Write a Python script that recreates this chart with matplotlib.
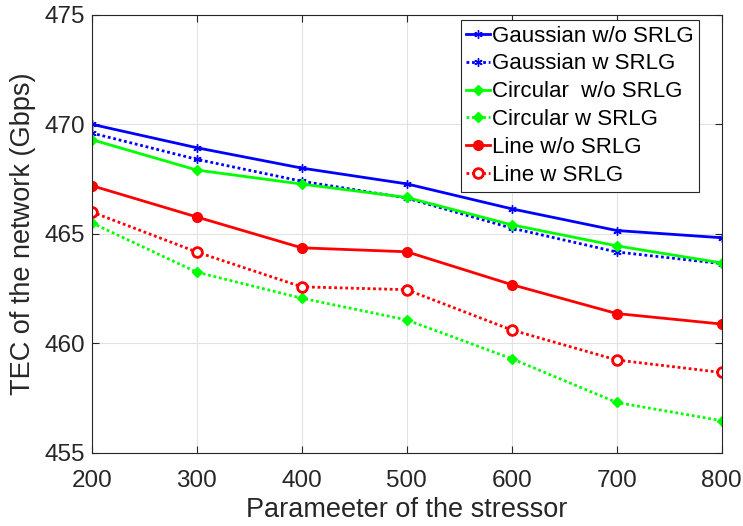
import matplotlib.pyplot as plt

plt.rcParams['font.family'] = ['Liberation Sans', 'DejaVu Sans']

# stressor parameter
x = [200, 300, 400, 500, 600, 700, 800]

gauss_wo = [470.0, 468.93, 468.0, 467.28, 466.14, 465.15, 464.82]
gauss_w = [469.6, 468.4, 467.4, 466.63, 465.26, 464.17, 463.64]
circ_wo = [469.3, 467.91, 467.27, 466.66, 465.41, 464.45, 463.67]
circ_w = [465.5, 463.25, 462.06, 461.07, 459.3, 457.3, 456.47]
line_wo = [467.2, 465.77, 464.36, 464.18, 462.68, 461.36, 460.88]
line_w = [466.0, 464.17, 462.58, 462.45, 460.61, 459.24, 458.67]

labels = ['Gaussian w/o SRLG', 'Gaussian w SRLG', 'Circular  w/o SRLG',
          'Circular w SRLG', 'Line w/o SRLG', 'Line w SRLG']

fig = plt.figure(figsize=(7.43, 5.26), dpi=100)
ax = fig.add_axes([0.1234, 0.139, 0.848, 0.833])

dot = (0, (1, 1))
ast = (6, 2, 0)
ax.plot(x, gauss_wo, color='b', lw=2, marker=ast, ms=6, label=labels[0])
ax.plot(x, gauss_w, color='b', lw=2, ls=dot, marker=ast, ms=6, label=labels[1])
ax.plot(x, circ_wo, color=(0, 1, 0), lw=2, marker='D', ms=5.5, label=labels[2])
ax.plot(x, circ_w, color=(0, 1, 0), lw=2, ls=dot, marker='D', ms=5.5, label=labels[3])
ax.plot(x, line_wo, color='r', lw=2, marker='o', ms=7, label=labels[4])
ax.plot(x, line_w, color='r', lw=2, ls=dot, marker='o', ms=7,
        mfc='white', mew=2, label=labels[5])

ax.set_xlim(200, 800)
ax.set_ylim(455, 475)
ax.set_xticks(range(200, 801, 100))
ax.set_yticks(range(455, 476, 5))
ax.grid(True, color='#e2e2e2', lw=0.8)
ax.set_axisbelow(True)
ax.tick_params(direction='in', top=True, right=True, labelsize=17.5,
               colors='#262626', length=5)
ax.tick_params(axis='x', pad=12.4)
ax.tick_params(axis='y', pad=4.6)
for s in ax.spines.values():
    s.set_color('#262626')
    s.set_linewidth(0.8)

ax.set_xlabel('Parameeter of the stressor', fontsize=19.5, color='#262626')
ax.set_ylabel('TEC of the network (Gbps)', fontsize=19.5, color='#262626')
ax.xaxis.set_label_coords(0.5, -0.101)
ax.yaxis.set_label_coords(-0.0884, 0.5)

leg = ax.legend(loc='upper right', bbox_to_anchor=(0.964, 0.988), fontsize=16,
                handlelength=1.05, handletextpad=0.1, borderpad=0.25,
                labelspacing=0.31, borderaxespad=0, fancybox=False,
                framealpha=1)
leg.get_frame().set_edgecolor('#262626')
leg.get_frame().set_linewidth(0.8)

fig.savefig('out.png', dpi=100)
